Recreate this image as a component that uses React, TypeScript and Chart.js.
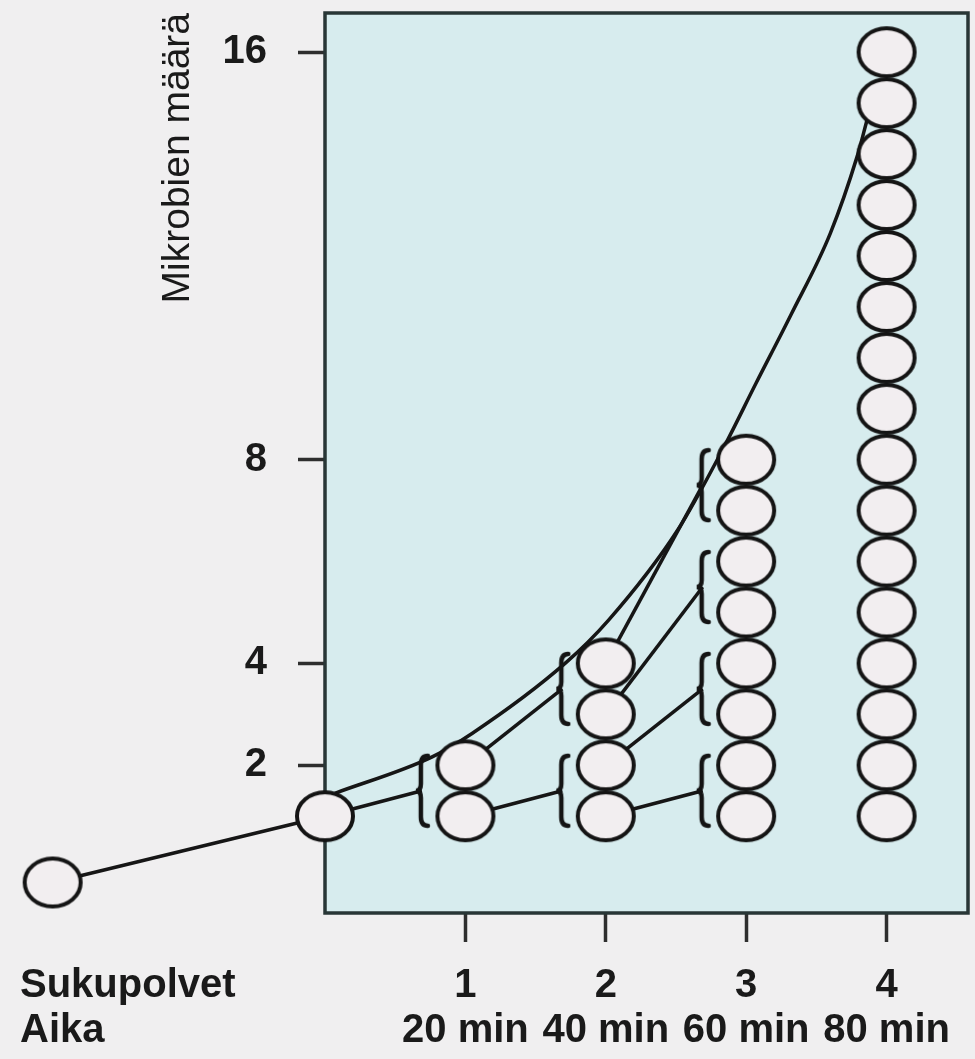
import React, { useEffect, useRef } from 'react';
import { Chart, registerables } from 'chart.js';

Chart.register(...registerables);

// ---- data ----
const generations = [1, 2, 3, 4];
const timeLabels = ['20 min', '40 min', '60 min', '80 min'];
const cellCounts = [1, 2, 4, 8, 16]; // cells in generation 0..4
const yTickValues = [2, 4, 8, 16];
const rowLabels = ['Sukupolvet', 'Aika'];
const yTitle = 'Mikrobien määrä';
const startCell = { x: -1.94, y: -0.3 };
const curveX = [0.07, 0.76, 1.05, 1.71, 2.02, 2.51, 2.84, 3.07, 3.32, 3.6, 3.79, 3.86];
const curveY = [1.45, 2.16, 2.63, 4.0, 4.85, 6.61, 8.24, 9.5, 10.85, 12.45, 13.95, 14.66];
const braceOffset = 0.31; // braces sit a little before each generation column

const FONT = "'Liberation Sans', Arial, Helvetica, sans-serif";
const INK = '#1a1a1a';
const FS = 40;

function makeCellImage() {
  const w = 64, h = 56;
  const c = document.createElement('canvas');
  c.width = w; c.height = h;
  const ctx = c.getContext('2d')!;
  ctx.beginPath();
  ctx.ellipse(w / 2, h / 2, 28, 24, 0, 0, Math.PI * 2);
  ctx.fillStyle = '#f2eef0';
  ctx.fill();
  ctx.lineWidth = 4;
  ctx.strokeStyle = '#141414';
  ctx.stroke();
  return c;
}

function makeBraceImage() {
  const w = 18, h = 76;
  const c = document.createElement('canvas');
  c.width = w; c.height = h;
  const ctx = c.getContext('2d')!;
  ctx.lineWidth = 4.5;
  ctx.strokeStyle = '#141414';
  ctx.lineCap = 'round';
  const r = w - 3, m = 8, l = 3;
  ctx.beginPath();
  ctx.moveTo(r, 3);
  ctx.quadraticCurveTo(m, 3, m, 12);
  ctx.lineTo(m, h / 2 - 7);
  ctx.quadraticCurveTo(m, h / 2, l, h / 2);
  ctx.quadraticCurveTo(m, h / 2, m, h / 2 + 7);
  ctx.lineTo(m, h - 12);
  ctx.quadraticCurveTo(m, h - 3, r, h - 3);
  ctx.stroke();
  return c;
}

const areaPlugin = {
  id: 'plotArea',
  beforeDatasetsDraw(chart: any) {
    const { ctx, chartArea: a } = chart;
    ctx.save();
    ctx.fillStyle = '#d7ecee';
    ctx.fillRect(a.left, a.top, a.right - a.left, a.bottom - a.top);
    ctx.lineWidth = 3.5;
    ctx.strokeStyle = '#283636';
    ctx.strokeRect(a.left, a.top, a.right - a.left, a.bottom - a.top);
    ctx.restore();
  },
};

const rowLabelPlugin = {
  id: 'rowLabels',
  afterDraw(chart: any) {
    const { ctx } = chart;
    const xs = chart.scales.x;
    const lh = 45;
    const y0 = xs.top + xs.options.grid.tickLength + xs.options.ticks.padding + lh / 2;
    ctx.save();
    ctx.font = `bold ${FS}px ${FONT}`;
    ctx.fillStyle = INK;
    ctx.textAlign = 'left';
    ctx.textBaseline = 'middle';
    rowLabels.forEach((t, i) => ctx.fillText(t, 20, y0 + i * lh));
    ctx.restore();
  },
};

export default function App() {
  const ref = useRef<HTMLCanvasElement>(null);

  useEffect(() => {
    document.body.style.background = '#f0eff0';
    const cellImg = makeCellImage();
    const braceImg = makeBraceImage();

    const cellPoints = cellCounts.flatMap((n, g) =>
      Array.from({ length: n }, (_, i) => ({ x: g, y: i + 1 }))
    );

    const bracePoints: { x: number; y: number }[] = [];
    cellCounts.forEach((n, g) => {
      if (g === 0 || g === cellCounts.length - 1) return;
      for (let k = 1; k <= n / 2; k++) bracePoints.push({ x: g - braceOffset, y: 2 * k - 0.5 });
    });

    const links: { x: number; y: number }[][] = [[startCell, { x: 0, y: 1 }]];
    for (let g = 0; g < cellCounts.length - 2; g++) {
      for (let k = 1; k <= cellCounts[g]; k++) {
        links.push([{ x: g, y: k }, { x: g + 1 - braceOffset, y: 2 * k - 0.5 }]);
      }
    }

    const lineBase = {
      showLine: true,
      borderColor: '#161616',
      borderWidth: 3.5,
      pointRadius: 0,
      clip: false as any,
    };

    const datasets: any[] = [
      {
        label: 'cells',
        data: cellPoints,
        pointStyle: cellImg,
        pointRadius: 40,
        showLine: false,
        clip: false,
        order: 0,
      },
      {
        label: 'start',
        data: [startCell],
        pointStyle: cellImg,
        pointRadius: 320,
        showLine: false,
        clip: false,
        order: 0,
      },
      {
        label: 'braces',
        data: bracePoints,
        pointStyle: braceImg,
        pointRadius: 40,
        showLine: false,
        clip: false,
        order: 1,
      },
      ...links.map((pts, i) => ({ ...lineBase, label: 'link' + i, data: pts, order: 2 })),
      {
        ...lineBase,
        label: 'curve',
        data: curveX.map((x, i) => ({ x, y: curveY[i] })),
        tension: 0.4,
        cubicInterpolationMode: 'monotone',
        order: 3,
      },
    ];

    const chart = new Chart(ref.current!, {
      type: 'scatter',
      data: { datasets },
      options: {
        responsive: false,
        maintainAspectRatio: false,
        animation: false,
        events: [],
        devicePixelRatio: 1,
        layout: { autoPadding: false, padding: { top: 13, right: 7, left: 0, bottom: 0 } },
        plugins: { legend: { display: false }, tooltip: { enabled: false } },
        scales: {
          x: {
            type: 'linear',
            min: 0,
            max: 4.58,
            afterFit: (s: any) => {
              s.height = 146;
              s.paddingLeft = 0;
              s.paddingRight = 0;
            },
            afterBuildTicks: (s: any) => { s.ticks = generations.map((v) => ({ value: v })); },
            grid: { drawOnChartArea: false, drawTicks: true, tickLength: 29, tickWidth: 3.5, tickColor: '#2e2e2e' },
            border: { display: false },
            ticks: {
              padding: 21.5,
              autoSkip: false,
              maxRotation: 0,
              color: INK,
              font: { family: FONT, size: FS, weight: 'bold', lineHeight: 1.125 },
              callback: (_v: any, i: number) => [String(generations[i]), timeLabels[i]],
            },
          },
          y: {
            type: 'linear',
            min: -0.9,
            max: 16.77,
            afterFit: (s: any) => {
              s.width = 325;
              s.paddingTop = 0;
              s.paddingBottom = 0;
            },
            afterBuildTicks: (s: any) => { s.ticks = yTickValues.map((v) => ({ value: v })); },
            grid: { drawOnChartArea: false, drawTicks: true, tickLength: 27, tickWidth: 3.5, tickColor: '#2e2e2e' },
            border: { display: false },
            ticks: {
              padding: 31,
              color: INK,
              font: { family: FONT, size: FS, weight: 'bold' },
              callback: (v: any) => String(v),
            },
            title: {
              display: true,
              text: yTitle,
              align: 'end',
              color: INK,
              font: { family: FONT, size: 39, weight: 'normal', lineHeight: 1.2 },
              padding: { top: 155, bottom: 0 },
            },
          },
        },
      } as any,
      plugins: [areaPlugin, rowLabelPlugin],
    });

    return () => chart.destroy();
  }, []);

  return (
    <div style={{ position: 'absolute', left: 0, top: 0, width: 975, height: 1059, background: '#f0eff0' }}>
      <canvas ref={ref} width={975} height={1059} style={{ display: 'block' }} />
    </div>
  );
}
